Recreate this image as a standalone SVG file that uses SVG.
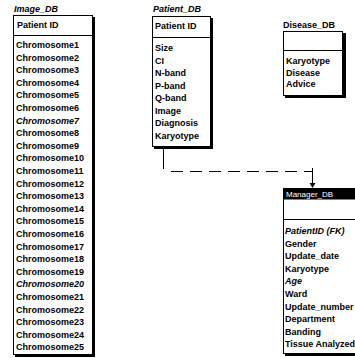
<svg xmlns="http://www.w3.org/2000/svg" width="355" height="358" viewBox="0 0 355 358">
<style>
text{font-family:"Liberation Sans",Arial,sans-serif;font-size:9px;font-weight:bold;fill:#000}
.ttl{font-style:italic}
.it{font-style:italic}
.box{fill:#fff;stroke:#000;stroke-width:1}
.sh{fill:#000}
.sep{stroke:#000;stroke-width:1}
.con{fill:none;stroke:#000;stroke-width:1}
.bar{fill:#000}
.wt{fill:#fff;font-weight:normal;font-size:8px}
</style>
<rect width="355" height="358" fill="#fff"/>
<g id="image_db">
<text class="ttl" x="14" y="12">Image_DB</text>
<rect class="sh" x="15" y="17" width="80" height="340"/>
<rect class="box" x="13.5" y="15.5" width="79" height="339"/>
<text x="17" y="28">Patient ID</text>
<line class="sep" x1="13.5" y1="35.5" x2="92.5" y2="35.5"/>
<text x="16" y="48">Chromosome1</text>
<text x="16" y="60.6">Chromosome2</text>
<text x="16" y="73.2">Chromosome3</text>
<text x="16" y="85.8">Chromosome4</text>
<text x="16" y="98.4">Chromosome5</text>
<text x="16" y="111">Chromosome6</text>
<text class="it" x="16" y="123.6">Chromosome7</text>
<text x="16" y="136.2">Chromosome8</text>
<text x="16" y="148.8">Chromosome9</text>
<text x="16" y="161.4">Chromosome10</text>
<text x="16" y="174">Chromosome11</text>
<text x="16" y="186.6">Chromosome12</text>
<text x="16" y="199.2">Chromosome13</text>
<text x="16" y="211.8">Chromosome14</text>
<text x="16" y="224.4">Chromosome15</text>
<text x="16" y="237">Chromosome16</text>
<text x="16" y="249.6">Chromosome17</text>
<text x="16" y="262.2">Chromosome18</text>
<text x="16" y="274.8">Chromosome19</text>
<text class="it" x="16" y="287.4">Chromosome20</text>
<text x="16" y="300">Chromosome21</text>
<text x="16" y="312.6">Chromosome22</text>
<text x="16" y="325.2">Chromosome23</text>
<text x="16" y="337.8">Chromosome24</text>
<text x="16" y="350.4">Chromosome25</text>
</g>
<g id="patient_db">
<text class="ttl" x="153" y="12">Patient_DB</text>
<rect class="sh" x="154" y="18" width="59" height="131"/>
<rect class="box" x="152.5" y="16.5" width="58" height="130"/>
<text x="155" y="29">Patient ID</text>
<line class="sep" x1="152.5" y1="37.5" x2="210.5" y2="37.5"/>
<text x="155" y="51">Size</text>
<text x="155" y="63.5">CI</text>
<text x="155" y="76">N-band</text>
<text x="155" y="88.5">P-band</text>
<text x="155" y="101">Q-band</text>
<text x="155" y="113.5">Image</text>
<text x="155" y="126">Diagnosis</text>
<text x="155" y="138.5">Karyotype</text>
</g>
<g id="disease_db">
<text x="283" y="28">Disease_DB</text>
<rect class="sh" x="285" y="33" width="61" height="65"/>
<rect class="box" x="283.5" y="31.5" width="59" height="64"/>
<line class="sep" x1="283.5" y1="50.5" x2="342.5" y2="50.5"/>
<text x="286" y="64">Karyotype</text>
<text x="286" y="75.5">Disease</text>
<text x="286" y="87">Advice</text>
</g>
<g id="manager_db">
<rect class="sh" x="285" y="190" width="75" height="166"/>
<rect class="box" x="283.5" y="188.5" width="80" height="165"/>
<rect class="bar" x="283.5" y="188.5" width="80" height="11"/>
<text class="wt" x="286" y="197">Manager_DB</text>
<line class="sep" x1="283.5" y1="219.5" x2="355" y2="219.5"/>
<text class="it" x="285" y="234">PatientID (FK)</text>
<text x="285" y="246.6">Gender</text>
<text x="285" y="259.2">Update_date</text>
<text x="285" y="271.8">Karyotype</text>
<text class="it" x="285" y="284.4">Age</text>
<text x="285" y="297">Ward</text>
<text x="285" y="309.6">Update_number</text>
<text x="285" y="322.2">Department</text>
<text x="285" y="334.8">Banding</text>
<text x="285" y="347.4">Tissue Analyzed</text>
</g>
<g id="connectors">
<line class="con" x1="163.5" y1="147" x2="163.5" y2="169"/>
<line class="con" x1="171" y1="171.5" x2="312" y2="171.5" stroke-dasharray="12 7"/>
<line class="con" x1="312.5" y1="168" x2="312.5" y2="184"/>
<path d="M309.5 183 L315.5 183 L312.5 188 Z" fill="#000"/>
</g>
</svg>
